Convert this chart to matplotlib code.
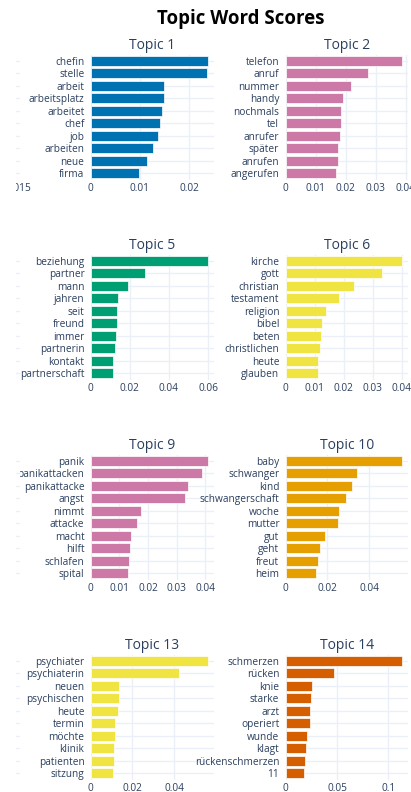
import matplotlib
matplotlib.use("Agg")
import matplotlib.pyplot as plt
import numpy as np
from matplotlib.patches import Rectangle
from matplotlib.ticker import MultipleLocator, FuncFormatter

# topic data (c-TF-IDF scores)
topic_ids = [1, 2, 5, 6, 9, 10, 13, 14]

t1_words = ["chefin", "stelle", "arbeit", "arbeitsplatz", "arbeitet",
            "chef", "job", "arbeiten", "neue", "firma"]
t1_scores = [0.0238, 0.0236, 0.0150, 0.0149, 0.0146,
             0.0142, 0.0137, 0.0127, 0.0114, 0.0099]

t2_words = ["telefon", "anruf", "nummer", "handy", "nochmals",
            "tel", "anrufer", "später", "anrufen", "angerufen"]
t2_scores = [0.0389, 0.0274, 0.0219, 0.0191, 0.0186,
             0.0183, 0.0182, 0.0175, 0.0174, 0.0168]

t5_words = ["beziehung", "partner", "mann", "jahren", "seit",
            "freund", "immer", "partnerin", "kontakt", "partnerschaft"]
t5_scores = [0.0598, 0.0278, 0.0191, 0.0142, 0.0137,
             0.0132, 0.0127, 0.0124, 0.0114, 0.0112]

t6_words = ["kirche", "gott", "christian", "testament", "religion",
            "bibel", "beten", "christlichen", "heute", "glauben"]
t6_scores = [0.0402, 0.0331, 0.0236, 0.0184, 0.0139,
             0.0126, 0.0122, 0.0120, 0.0112, 0.0111]

t9_words = ["panik", "panikattacken", "panikattacke", "angst", "nimmt",
            "attacke", "macht", "hilft", "schlafen", "spital"]
t9_scores = [0.0408, 0.0390, 0.0339, 0.0329, 0.0176,
             0.0163, 0.0139, 0.0138, 0.0133, 0.0129]

t10_words = ["baby", "schwanger", "kind", "schwangerschaft", "woche",
             "mutter", "gut", "geht", "freut", "heim"]
t10_scores = [0.0560, 0.0341, 0.0318, 0.0291, 0.0255,
              0.0251, 0.0189, 0.0164, 0.0156, 0.0145]

t13_words = ["psychiater", "psychiaterin", "neuen", "psychischen", "heute",
             "termin", "möchte", "klinik", "patienten", "sitzung"]
t13_scores = [0.0560, 0.0425, 0.0136, 0.0135, 0.0129,
              0.0115, 0.0114, 0.0113, 0.0111, 0.0108]

t14_words = ["schmerzen", "rücken", "knie", "starke", "arzt",
             "operiert", "wunde", "klagt", "rückenschmerzen", "11"]
t14_scores = [0.1136, 0.0468, 0.0255, 0.0245, 0.0242,
              0.0236, 0.0213, 0.0197, 0.0194, 0.0178]

all_words = [t1_words, t2_words, t5_words, t6_words,
             t9_words, t10_words, t13_words, t14_words]
all_scores = [t1_scores, t2_scores, t5_scores, t6_scores,
              t9_scores, t10_scores, t13_scores, t14_scores]

# x tick spacing per topic, as shown on the axes
tick_steps = [0.01, 0.01, 0.02, 0.01, 0.01, 0.02, 0.02, 0.05]

# the first column (topics 0, 4, 8, 12) is cut off in the screenshot,
# only the last sliver of topic 0's axis (around 0.015) is visible
ghost_xlim = (0.01475, 0.01525)
ghost_ticks = [0.015]

# BERTopic palette, cycled over topic ids
palette = ["#D55E00", "#0072B2", "#CC79A7", "#E69F00",
           "#56B4E9", "#009E73", "#F0E442"]

W, H = 411, 792
TEXT = "#2a3f5f"
GRID = "#EBF0F8"

plt.rcParams["font.family"] = ["Open Sans", "DejaVu Sans"]


def add_px_axes(fig, left, top, width, height):
    return fig.add_axes([left / W, 1 - (top + height) / H, width / W, height / H])


def fmt_tick(v, _):
    return f"{round(v, 4):g}"


def style_axes(ax, n):
    for s in ax.spines.values():
        s.set_visible(False)
    ax.set_facecolor("white")
    ax.set_axisbelow(True)
    ax.grid(True, color=GRID, linewidth=1)
    ax.set_yticks(np.arange(n))
    ax.set_ylim(n - 0.5, -0.5)
    ax.tick_params(length=0, labelsize=7.3, labelcolor=TEXT)
    ax.tick_params(axis="y", pad=4.5)
    ax.tick_params(axis="x", pad=2.4)
    ax.xaxis.set_major_formatter(FuncFormatter(fmt_tick))


def plot_topics():
    fig = plt.figure(figsize=(W / 100, H / 100), dpi=100)
    fig.patch.set_facecolor("white")

    col_left = [90.7, 285.5]
    col_w = 122.8
    row_top = 54.5
    row_h = 125
    row_step = 200

    for i, tid in enumerate(topic_ids):
        row, col = divmod(i, 2)
        ax = add_px_axes(fig, col_left[col], row_top + row * row_step, col_w, row_h)
        words = all_words[i]
        scores = all_scores[i]
        n = len(words)
        style_axes(ax, n)
        ax.barh(np.arange(n), scores, height=0.78,
                color=palette[tid % len(palette)],
                edgecolor="white", linewidth=0.5)
        ax.set_yticklabels(words)
        ax.set_xlim(0, max(scores) * 1.05)
        ax.xaxis.set_major_locator(MultipleLocator(tick_steps[i]))
        ax.set_title(f"Topic {tid}", fontsize=10, color=TEXT, pad=4.2)

    # cut-off first column: only the gridline ends show
    for row in range(4):
        ax = add_px_axes(fig, 16, row_top + row * row_step, 4, row_h)
        style_axes(ax, 10)
        ax.grid(False, axis="x")
        ax.set_yticklabels([])
        ax.set_xlim(*ghost_xlim)
        if row == 0:
            ax.set_xticks(ghost_ticks)
        else:
            ax.set_xticks([])

    # screenshot edge cuts topic 0's tick label
    fig.add_artist(Rectangle((0, 1 - 200 / H), 16 / W, 22 / H, transform=fig.transFigure,
                             facecolor="white", edgecolor="none", zorder=10))

    fig.text(241 / W, 1 - 24 / H, "Topic Word Scores", ha="center", va="baseline",
             fontsize=13.4, fontweight="bold", color="black")
    return fig


def main():
    fig = plot_topics()
    fig.savefig("out.png", dpi=100)
    print("saved out.png")


if __name__ == "__main__":
    main()
